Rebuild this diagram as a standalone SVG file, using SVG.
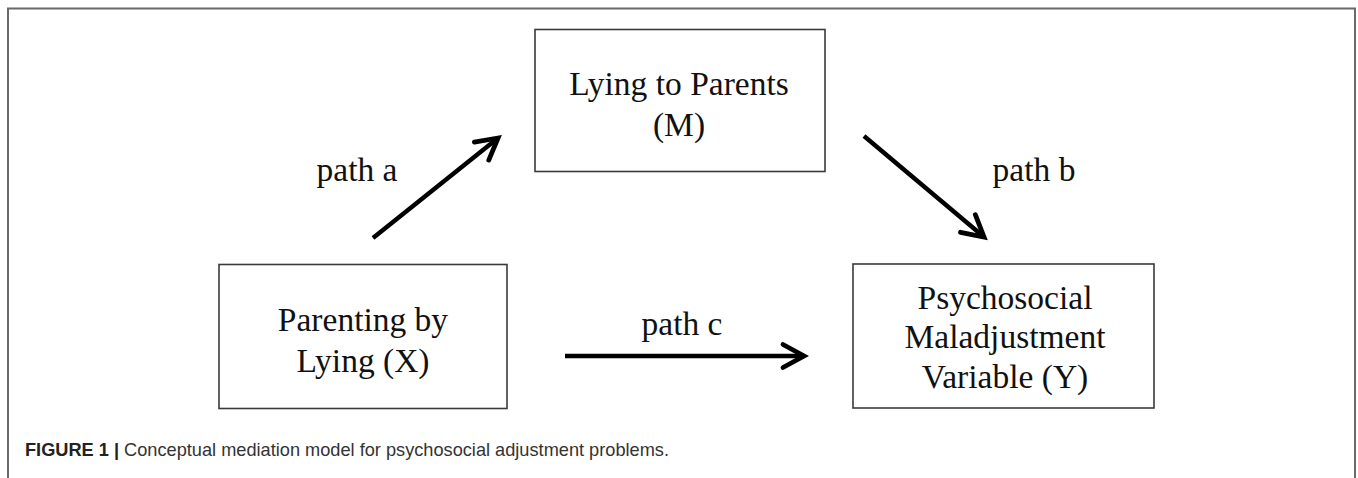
<svg xmlns="http://www.w3.org/2000/svg" width="1358" height="478" viewBox="0 0 1358 478">
  <style>
    .box { fill: #ffffff; stroke: #3a3a3a; stroke-width: 1.6; }
    .lbl { font-family: "Liberation Serif", "Times New Roman", serif; font-size: 33.5px; fill: #111111; text-anchor: middle; }
    .conn { stroke: #000000; stroke-width: 4.4; fill: none; stroke-linecap: butt; }
    .cap { font-family: "Liberation Sans", Arial, sans-serif; font-size: 18.2px; fill: #333333; }
  </style>
  <defs>
    <marker id="arrow" markerUnits="userSpaceOnUse" markerWidth="40" markerHeight="40" viewBox="-30 -20 40 40" refX="0" refY="0" orient="auto">
      <path d="M-21,-11.5 L0,0 L-21,11.5" fill="none" stroke="#000000" stroke-width="4.8" stroke-linecap="round" stroke-linejoin="miter"/>
    </marker>
  </defs>
  <rect width="1358" height="478" fill="#ffffff"/>
  <path d="M8,478 V8.5 H1355 V478" fill="none" stroke="#6a6a6a" stroke-width="2"/>

  <g id="node-M">
    <rect class="box" x="535" y="29.5" width="290" height="142"/>
    <text class="lbl" x="679" y="95">Lying to Parents</text>
    <text class="lbl" x="679" y="136">(M)</text>
  </g>

  <g id="node-X">
    <rect class="box" x="219" y="264.5" width="288" height="144"/>
    <text class="lbl" x="363" y="331">Parenting by</text>
    <text class="lbl" x="363" y="372">Lying (X)</text>
  </g>

  <g id="node-Y">
    <rect class="box" x="853" y="264" width="301" height="144"/>
    <text class="lbl" x="1005" y="309">Psychosocial</text>
    <text class="lbl" x="1005" y="348">Maladjustment</text>
    <text class="lbl" x="1005" y="388">Variable (Y)</text>
  </g>

  <g id="connectors">
    <line class="conn" x1="373" y1="238" x2="498" y2="138" marker-end="url(#arrow)"/>
    <line class="conn" x1="864" y1="136" x2="984" y2="237" marker-end="url(#arrow)"/>
    <line class="conn" x1="565" y1="356" x2="804" y2="356" marker-end="url(#arrow)"/>
    <text class="lbl" x="357" y="181">path a</text>
    <text class="lbl" x="1034" y="181">path b</text>
    <text class="lbl" x="682" y="335">path c</text>
  </g>

  <text class="cap" x="25" y="456"><tspan font-weight="bold" fill="#222222">FIGURE 1 | </tspan>Conceptual mediation model for psychosocial adjustment problems.</text>
</svg>
